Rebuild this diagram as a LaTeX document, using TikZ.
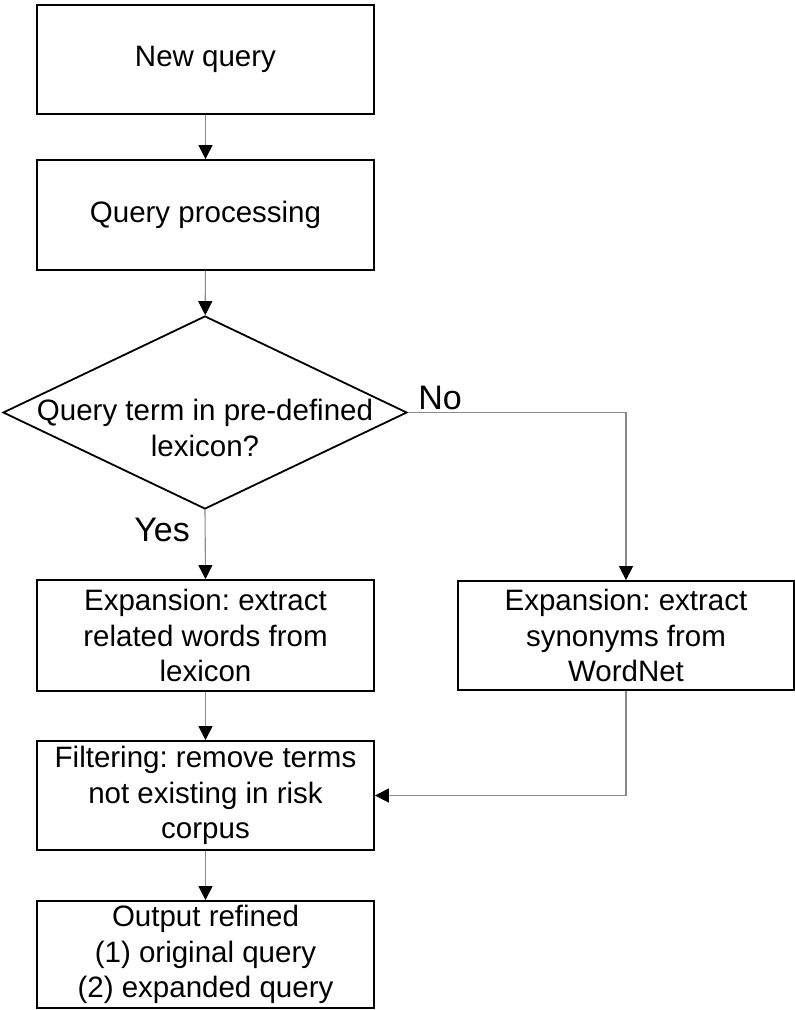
\documentclass[tikz,border=0pt]{standalone}
\usepackage{fontspec}
\setmainfont{Liberation Sans}
\usetikzlibrary{shapes.geometric,arrows.meta}
\definecolor{conn}{HTML}{8A8A8A}
\frenchspacing
\begin{document}
\begin{tikzpicture}[x=1pt,y=-1pt,
  every node/.style={font=\fontsize{29.5}{35.5}\selectfont},
  procbox/.style={draw=black,line width=1.8pt,rectangle,minimum width=337pt,inner sep=0pt,align=center},
  decbox/.style={draw=black,line width=1.8pt,diamond,minimum width=404pt,minimum height=193pt,inner sep=0pt},
  conn/.style={draw=conn,line width=1.1pt,-{Triangle[width=14pt,length=14pt,color=black]}},
  edgelabel/.style={font=\fontsize{34}{40}\selectfont}
]
\useasboundingbox (0,0) rectangle (795,1010);
\node[procbox,minimum height=109pt] (b1) at (205.5,59.5) {New query};
\node[procbox,minimum height=110pt] (b2) at (205.5,215) {Query processing};
\node[decbox] (dec) at (205,412.5) {};
\node[align=center,inner sep=0pt] (dectext) at (205,428) {Query term in pre-defined\\lexicon?};
\node[procbox,minimum height=111pt] (b3) at (205.5,635.5) {Expansion: extract\\related words from\\lexicon};
\node[procbox,minimum height=109pt,minimum width=336pt] (b4) at (626,635.5) {Expansion: extract\\synonyms from\\WordNet};
\node[procbox,minimum height=109pt] (b5) at (205.5,795.5) {Filtering: remove terms\\not existing in risk\\corpus};
\node[procbox,minimum height=107pt] (b6) at (205.5,954.5) {Output refined\\(1) original query\\(2) expanded query};
\node[edgelabel] (yes) at (162,530) {Yes};
\node[edgelabel] (no) at (440,398) {No};
\draw[conn] (b1) -- (b2);
\draw[conn] (b2) -- (dec);
\draw[conn] (dec.south) -- (b3.north);
\draw[conn] (dec.east) -| (b4.north);
\draw[conn] (b3) -- (b5);
\draw[conn] (b4.south) |- (b5.east);
\draw[conn] (b5) -- (b6);
\end{tikzpicture}
\end{document}
